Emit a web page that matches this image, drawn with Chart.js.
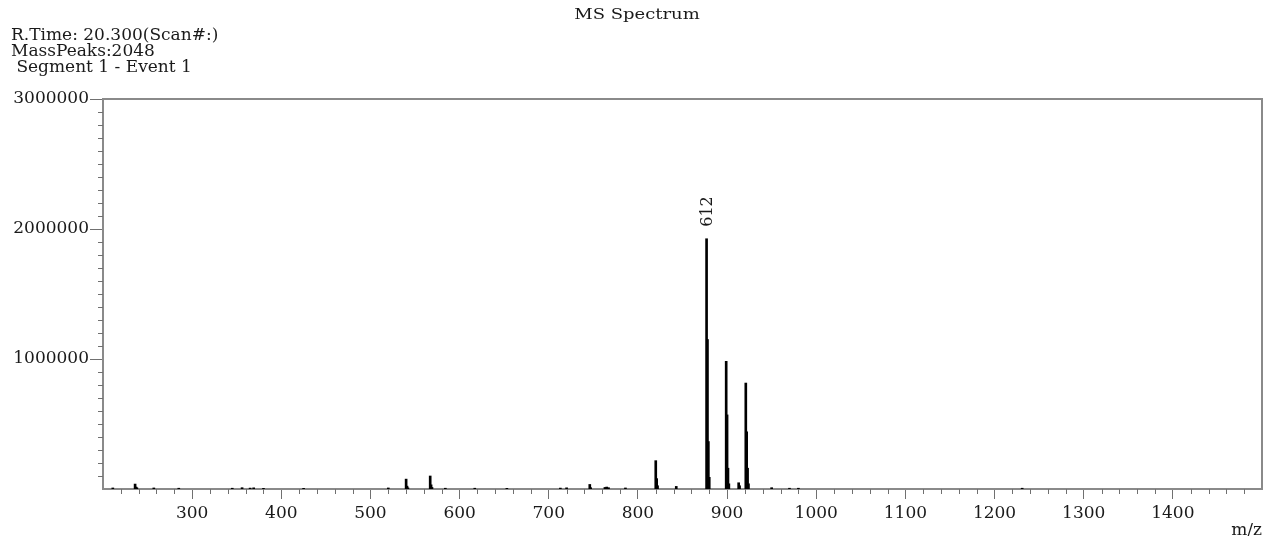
<!DOCTYPE html>
<html>
<head>
<meta charset="utf-8">
<title>MS Spectrum</title>
<script src="https://cdn.jsdelivr.net/npm/chart.js@4.4.1/dist/chart.umd.min.js"></script>
<style>
  html, body { margin: 0; padding: 0; background: #fff; }
  #msWrap { width: 1264px; height: 536px; }
</style>
</head>
<body>
<div id="msWrap"><canvas id="msChart" width="1264" height="536"></canvas></div>
<script>
const MS_TITLE = "MS Spectrum";
const MS_HEADER = ["R.Time: 20.300(Scan#:)", "MassPeaks:2048", " Segment 1 - Event 1"];

// centroid peaks: m/z and intensity
const MS_MZ = [
  211, 236, 237, 238, 257, 285, 345, 356, 365, 369, 380, 425,
  520, 540, 541, 542, 567, 568, 569, 584, 617, 653, 713, 720,
  746, 747, 763, 765, 767, 786, 820, 821, 822, 843,
  877, 878, 879, 880, 899, 900, 901, 902, 913, 914,
  921, 922, 923, 924, 950, 970, 980, 1231
];
const MS_INT = [
  8000, 38000, 15000, 9000, 8000, 6000, 6000, 10000, 7000, 9000, 5000, 5000,
  8000, 76000, 22000, 9000, 100000, 32000, 12000, 6000, 6000, 5000, 7000, 9000,
  35000, 10000, 12000, 15000, 10000, 8000, 218000, 80000, 25000, 20000,
  1925000, 1150000, 365000, 90000, 982000, 570000, 160000, 40000, 48000, 25000,
  815000, 440000, 160000, 40000, 10000, 6000, 6000, 6000
];

// annotated peaks
const MS_LABEL_MZ = [877];
const MS_LABEL_TEXT = ["612"];

const MS_X_TICKS = [300, 400, 500, 600, 700, 800, 900, 1000, 1100, 1200, 1300, 1400];
const MS_Y_TICKS = [1000000, 2000000, 3000000];
const MS_X_RANGE = [200, 1500];
const MS_Y_RANGE = [0, 3000000];
const MS_X_MINOR = 20;
const MS_Y_MINOR = 100000;

const TEXT_COLOR = "#1a1a1a";
const AXIS_COLOR = "#8a8a8a";
const TICK_COLOR = "#707070";
const SERIF = "'DejaVu Serif', 'Liberation Serif', serif";

const MS_DECOR = {
  id: "msDecor",
  afterDraw(chart){
    const ctx = chart.ctx;
    const { left, right, top, bottom } = chart.chartArea;
    const xs = chart.scales.x;
    const ys = chart.scales.y;

    ctx.save();

    // box: top and right edges
    ctx.strokeStyle = AXIS_COLOR;
    ctx.lineWidth = 2;
    ctx.beginPath();
    ctx.moveTo(left, top);
    ctx.lineTo(right, top);
    ctx.lineTo(right, bottom);
    ctx.stroke();

    // minor ticks
    ctx.strokeStyle = TICK_COLOR;
    ctx.lineWidth = 1;
    ctx.beginPath();
    for(let v = MS_X_RANGE[0] + MS_X_MINOR; v < MS_X_RANGE[1]; v += MS_X_MINOR){
      if(v % 100 === 0) continue;
      const px = Math.round(xs.getPixelForValue(v)) + 0.5;
      ctx.moveTo(px, bottom);
      ctx.lineTo(px, bottom + 5);
    }
    for(let v = MS_Y_MINOR; v < MS_Y_RANGE[1]; v += MS_Y_MINOR){
      if(v % 1000000 === 0) continue;
      const py = Math.round(ys.getPixelForValue(v)) + 0.5;
      ctx.moveTo(left - 5, py);
      ctx.lineTo(left, py);
    }
    ctx.stroke();

    ctx.fillStyle = TEXT_COLOR;

    // title, slightly widened
    ctx.font = "15px " + SERIF;
    ctx.textAlign = "center";
    ctx.textBaseline = "middle";
    ctx.save();
    ctx.translate(637, 15);
    ctx.scale(1.2, 1);
    ctx.fillText(MS_TITLE, 0, 0);
    ctx.restore();

    // scan info
    ctx.font = "17px " + SERIF;
    ctx.textAlign = "left";
    MS_HEADER.forEach((t, i) => ctx.fillText(t, 11, 35.5 + i * 16));

    // peak annotations, rotated
    ctx.font = "16px " + SERIF;
    MS_LABEL_MZ.forEach((mz, i) => {
      const idx = MS_MZ.indexOf(mz);
      const px = xs.getPixelForValue(mz);
      const py = ys.getPixelForValue(MS_INT[idx]);
      ctx.save();
      ctx.translate(px + 1, py - 12);
      ctx.rotate(-Math.PI / 2);
      ctx.textAlign = "left";
      ctx.textBaseline = "middle";
      ctx.fillText(MS_LABEL_TEXT[i], 0, 0);
      ctx.restore();
    });

    // axis unit
    ctx.font = "17px " + SERIF;
    ctx.textAlign = "right";
    ctx.textBaseline = "top";
    ctx.fillText("m/z", right, 522);

    ctx.restore();
  }
};

function RENDER_MS_SPECTRUM(){
  const canvas = document.getElementById("msChart");
  if(!canvas) return;

  const points = MS_MZ.map((mz, i) => ({ x: mz, y: MS_INT[i] }));

  new Chart(canvas, {
    type: "bar",
    data: {
      datasets: [{
        data: points,
        backgroundColor: "#000",
        borderWidth: 0,
        barThickness: 2
      }]
    },
    options: {
      responsive: false,
      animation: false,
      devicePixelRatio: 1,
      layout: { padding: { top: 99, right: 2, left: 0, bottom: 0 } },
      plugins: {
        legend: { display: false },
        tooltip: { enabled: false }
      },
      scales: {
        x: {
          type: "linear",
          offset: false,
          min: MS_X_RANGE[0],
          max: MS_X_RANGE[1],
          afterBuildTicks: s => { s.ticks = MS_X_TICKS.map(v => ({ value: v })); },
          afterFit: s => {
            s.height = 47;
            s.paddingLeft = 0;
            s.paddingRight = 0;
          },
          border: { display: true, color: AXIS_COLOR, width: 2 },
          grid: {
            offset: false,
            drawOnChartArea: false,
            drawTicks: true,
            tickLength: 10,
            color: TICK_COLOR,
            tickWidth: 1
          },
          ticks: {
            autoSkip: false,
            maxRotation: 0,
            padding: 4,
            color: TEXT_COLOR,
            font: { family: SERIF, size: 17 },
            callback: v => String(v)
          }
        },
        y: {
          min: MS_Y_RANGE[0],
          max: MS_Y_RANGE[1],
          afterBuildTicks: s => { s.ticks = MS_Y_TICKS.map(v => ({ value: v })); },
          afterFit: s => {
            s.width = 103;
            s.paddingTop = 0;
            s.paddingBottom = 0;
          },
          border: { display: true, color: AXIS_COLOR, width: 2 },
          grid: {
            drawOnChartArea: false,
            drawTicks: true,
            tickLength: 13,
            color: TICK_COLOR,
            tickWidth: 1
          },
          ticks: {
            padding: 1,
            color: TEXT_COLOR,
            font: { family: SERIF, size: 17 },
            callback: v => String(v)
          }
        }
      }
    },
    plugins: [MS_DECOR]
  });
}

RENDER_MS_SPECTRUM();
</script>
</body>
</html>
